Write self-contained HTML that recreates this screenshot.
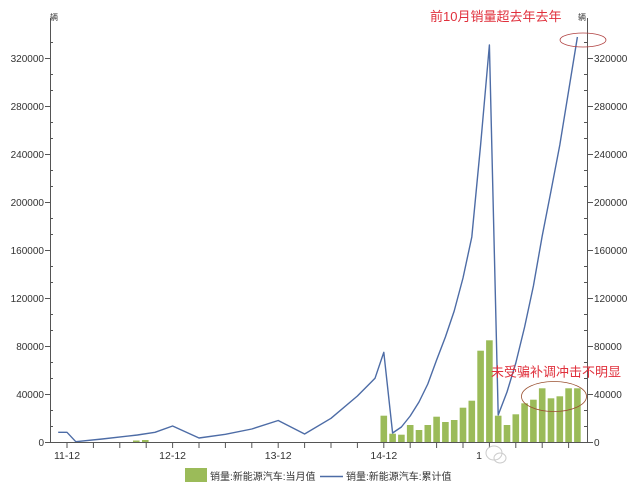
<!DOCTYPE html>
<html><head><meta charset="utf-8"><style>
html,body{margin:0;padding:0;background:#fff;}
svg{display:block;}
text{font-family:"Liberation Sans","Noto Sans CJK SC",sans-serif;}
</style></head><body>
<svg width="640" height="486" viewBox="0 0 640 486" xmlns="http://www.w3.org/2000/svg">
<rect width="640" height="486" fill="#fff"/>
<!-- bars -->
<g fill="#9bbb59">
<rect x="133" y="440.5" width="6.6" height="1.5"/>
<rect x="142" y="440" width="6.6" height="2"/>
<rect x="380.5" y="415.7" width="6.6" height="26.3"/>
<rect x="389.3" y="433.7" width="6.6" height="8.3"/>
<rect x="398.1" y="434.7" width="6.6" height="7.3"/>
<rect x="406.9" y="425" width="6.6" height="17"/>
<rect x="415.7" y="430" width="6.6" height="12"/>
<rect x="424.5" y="425" width="6.6" height="17"/>
<rect x="433.3" y="416.7" width="6.6" height="25.3"/>
<rect x="442.1" y="422" width="6.6" height="20"/>
<rect x="450.9" y="420" width="6.6" height="22"/>
<rect x="459.7" y="407.7" width="6.6" height="34.3"/>
<rect x="468.5" y="400.7" width="6.6" height="41.3"/>
<rect x="477.3" y="350.7" width="6.6" height="91.3"/>
<rect x="486.1" y="340.3" width="6.6" height="101.7"/>
<rect x="494.9" y="415.7" width="6.6" height="26.3"/>
<rect x="503.7" y="425" width="6.6" height="17"/>
<rect x="512.5" y="414.3" width="6.6" height="27.7"/>
<rect x="521.3" y="403.3" width="6.6" height="38.7"/>
<rect x="530.1" y="399.7" width="6.6" height="42.3"/>
<rect x="538.9" y="388.3" width="6.6" height="53.7"/>
<rect x="547.7" y="398.3" width="6.6" height="43.7"/>
<rect x="556.5" y="396.3" width="6.6" height="45.7"/>
<rect x="565.3" y="388.3" width="6.6" height="53.7"/>
<rect x="574.1" y="388.3" width="6.6" height="53.7"/>
</g>
<!-- cumulative line -->
<polyline fill="none" stroke="#4d6ca6" stroke-width="1.4" stroke-linejoin="round" points="
58.2,432.3 67,432.3 75.8,441.7 102.2,439 137.4,435 155,432.3 172.6,426 199,438 225.4,434.3 251.8,429 278.2,420.5
304.6,434 331,418.3 357.4,396 375,378.3 383.8,352.3
392.6,433 401.4,427 410.2,416 419,402 427.8,384 436.6,360 445.4,337 454.2,311 463,278 471.8,237 480.6,145 489.4,45
498.2,415 507,392 515.8,363 524.6,327 533.4,286 542.2,236 551,191 559.8,145 568.6,91 577.4,37"/>
<!-- axes -->
<g stroke="#555" stroke-width="1" fill="none">
<line x1="50.5" y1="18" x2="50.5" y2="442.5"/>
<line x1="587.5" y1="18" x2="587.5" y2="442.5"/>
<line x1="50" y1="442.5" x2="588" y2="442.5"/>
</g>
<g stroke="#555" stroke-width="1">
<!-- left major -->
<line x1="45" y1="58.5" x2="50" y2="58.5"/><line x1="45" y1="106.5" x2="50" y2="106.5"/><line x1="45" y1="154.5" x2="50" y2="154.5"/><line x1="45" y1="202.5" x2="50" y2="202.5"/><line x1="45" y1="250.5" x2="50" y2="250.5"/><line x1="45" y1="298.5" x2="50" y2="298.5"/><line x1="45" y1="346.5" x2="50" y2="346.5"/><line x1="45" y1="394.5" x2="50" y2="394.5"/><line x1="45" y1="442.5" x2="50" y2="442.5"/>
<!-- left minor -->
<line x1="50" y1="42.5" x2="53" y2="42.5"/><line x1="50" y1="74.5" x2="53" y2="74.5"/><line x1="50" y1="90.5" x2="53" y2="90.5"/><line x1="50" y1="122.5" x2="53" y2="122.5"/><line x1="50" y1="138.5" x2="53" y2="138.5"/><line x1="50" y1="170.5" x2="53" y2="170.5"/><line x1="50" y1="186.5" x2="53" y2="186.5"/><line x1="50" y1="218.5" x2="53" y2="218.5"/><line x1="50" y1="234.5" x2="53" y2="234.5"/><line x1="50" y1="266.5" x2="53" y2="266.5"/><line x1="50" y1="282.5" x2="53" y2="282.5"/><line x1="50" y1="314.5" x2="53" y2="314.5"/><line x1="50" y1="330.5" x2="53" y2="330.5"/><line x1="50" y1="362.5" x2="53" y2="362.5"/><line x1="50" y1="378.5" x2="53" y2="378.5"/><line x1="50" y1="410.5" x2="53" y2="410.5"/><line x1="50" y1="426.5" x2="53" y2="426.5"/>
<!-- right major -->
<line x1="588" y1="58.5" x2="593" y2="58.5"/><line x1="588" y1="106.5" x2="593" y2="106.5"/><line x1="588" y1="154.5" x2="593" y2="154.5"/><line x1="588" y1="202.5" x2="593" y2="202.5"/><line x1="588" y1="250.5" x2="593" y2="250.5"/><line x1="588" y1="298.5" x2="593" y2="298.5"/><line x1="588" y1="346.5" x2="593" y2="346.5"/><line x1="588" y1="394.5" x2="593" y2="394.5"/><line x1="588" y1="442.5" x2="593" y2="442.5"/>
<!-- right minor -->
<line x1="584" y1="42.5" x2="587" y2="42.5"/><line x1="584" y1="74.5" x2="587" y2="74.5"/><line x1="584" y1="90.5" x2="587" y2="90.5"/><line x1="584" y1="122.5" x2="587" y2="122.5"/><line x1="584" y1="138.5" x2="587" y2="138.5"/><line x1="584" y1="170.5" x2="587" y2="170.5"/><line x1="584" y1="186.5" x2="587" y2="186.5"/><line x1="584" y1="218.5" x2="587" y2="218.5"/><line x1="584" y1="234.5" x2="587" y2="234.5"/><line x1="584" y1="266.5" x2="587" y2="266.5"/><line x1="584" y1="282.5" x2="587" y2="282.5"/><line x1="584" y1="314.5" x2="587" y2="314.5"/><line x1="584" y1="330.5" x2="587" y2="330.5"/><line x1="584" y1="362.5" x2="587" y2="362.5"/><line x1="584" y1="378.5" x2="587" y2="378.5"/><line x1="584" y1="410.5" x2="587" y2="410.5"/><line x1="584" y1="426.5" x2="587" y2="426.5"/>
<!-- x ticks -->
<line x1="67" y1="442" x2="67" y2="448"/><line x1="93.4" y1="442" x2="93.4" y2="448"/><line x1="119.8" y1="442" x2="119.8" y2="448"/><line x1="146.2" y1="442" x2="146.2" y2="448"/><line x1="172.6" y1="442" x2="172.6" y2="448"/><line x1="199" y1="442" x2="199" y2="448"/><line x1="225.4" y1="442" x2="225.4" y2="448"/><line x1="251.8" y1="442" x2="251.8" y2="448"/><line x1="278.2" y1="442" x2="278.2" y2="448"/><line x1="304.6" y1="442" x2="304.6" y2="448"/><line x1="331" y1="442" x2="331" y2="448"/><line x1="357.4" y1="442" x2="357.4" y2="448"/><line x1="383.8" y1="442" x2="383.8" y2="448"/><line x1="410.2" y1="442" x2="410.2" y2="448"/><line x1="436.6" y1="442" x2="436.6" y2="448"/><line x1="463" y1="442" x2="463" y2="448"/><line x1="489.4" y1="442" x2="489.4" y2="448"/><line x1="515.8" y1="442" x2="515.8" y2="448"/><line x1="542.2" y1="442" x2="542.2" y2="448"/><line x1="568.6" y1="442" x2="568.6" y2="448"/>
</g>
<!-- axis labels -->
<g font-size="10" fill="#333" text-anchor="end">
<text x="44" y="62">320000</text><text x="44" y="110">280000</text><text x="44" y="158">240000</text><text x="44" y="206">200000</text><text x="44" y="254">160000</text><text x="44" y="302">120000</text><text x="44" y="350">80000</text><text x="44" y="398">40000</text><text x="44" y="446">0</text>
</g>
<g font-size="10" fill="#333" text-anchor="start">
<text x="594" y="62">320000</text><text x="594" y="110">280000</text><text x="594" y="158">240000</text><text x="594" y="206">200000</text><text x="594" y="254">160000</text><text x="594" y="302">120000</text><text x="594" y="350">80000</text><text x="594" y="398">40000</text><text x="594" y="446">0</text>
</g>
<g font-size="10.5" fill="#333" text-anchor="middle">
<text x="67" y="459">11-12</text><text x="172.6" y="459">12-12</text><text x="278.2" y="459">13-12</text><text x="383.8" y="459">14-12</text>
<text x="479" y="459">1</text>
</g>
<text x="50" y="20" font-size="8" fill="#333">辆</text>
<text x="578" y="20" font-size="8" fill="#333">辆</text>
<!-- watermark -->
<g fill="none" stroke="#ccc" stroke-width="1">
<ellipse cx="494" cy="453" rx="8" ry="7"/>
<ellipse cx="500" cy="458" rx="6" ry="5"/>
</g>
<!-- annotations -->
<text x="430" y="21" font-size="13" fill="#e0303c">前10月销量超去年去年</text>
<ellipse cx="583" cy="40" rx="23" ry="7" fill="none" stroke="#b04040" stroke-width="0.8"/>
<text x="491" y="376.5" font-size="13" fill="#e0303c">未受骗补调冲击不明显</text>
<ellipse cx="554" cy="396.5" rx="32.5" ry="15" fill="none" stroke="#9a5030" stroke-width="0.8"/>
<!-- legend -->
<rect x="185" y="468" width="22" height="14" fill="#9bbb59"/>
<text x="210" y="480" font-size="10" fill="#333">销量:新能源汽车:当月值</text>
<line x1="320" y1="476.5" x2="343" y2="476.5" stroke="#4d6ca6" stroke-width="1.4"/>
<text x="346" y="480" font-size="10" fill="#333">销量:新能源汽车:累计值</text>
</svg>
</body></html>
